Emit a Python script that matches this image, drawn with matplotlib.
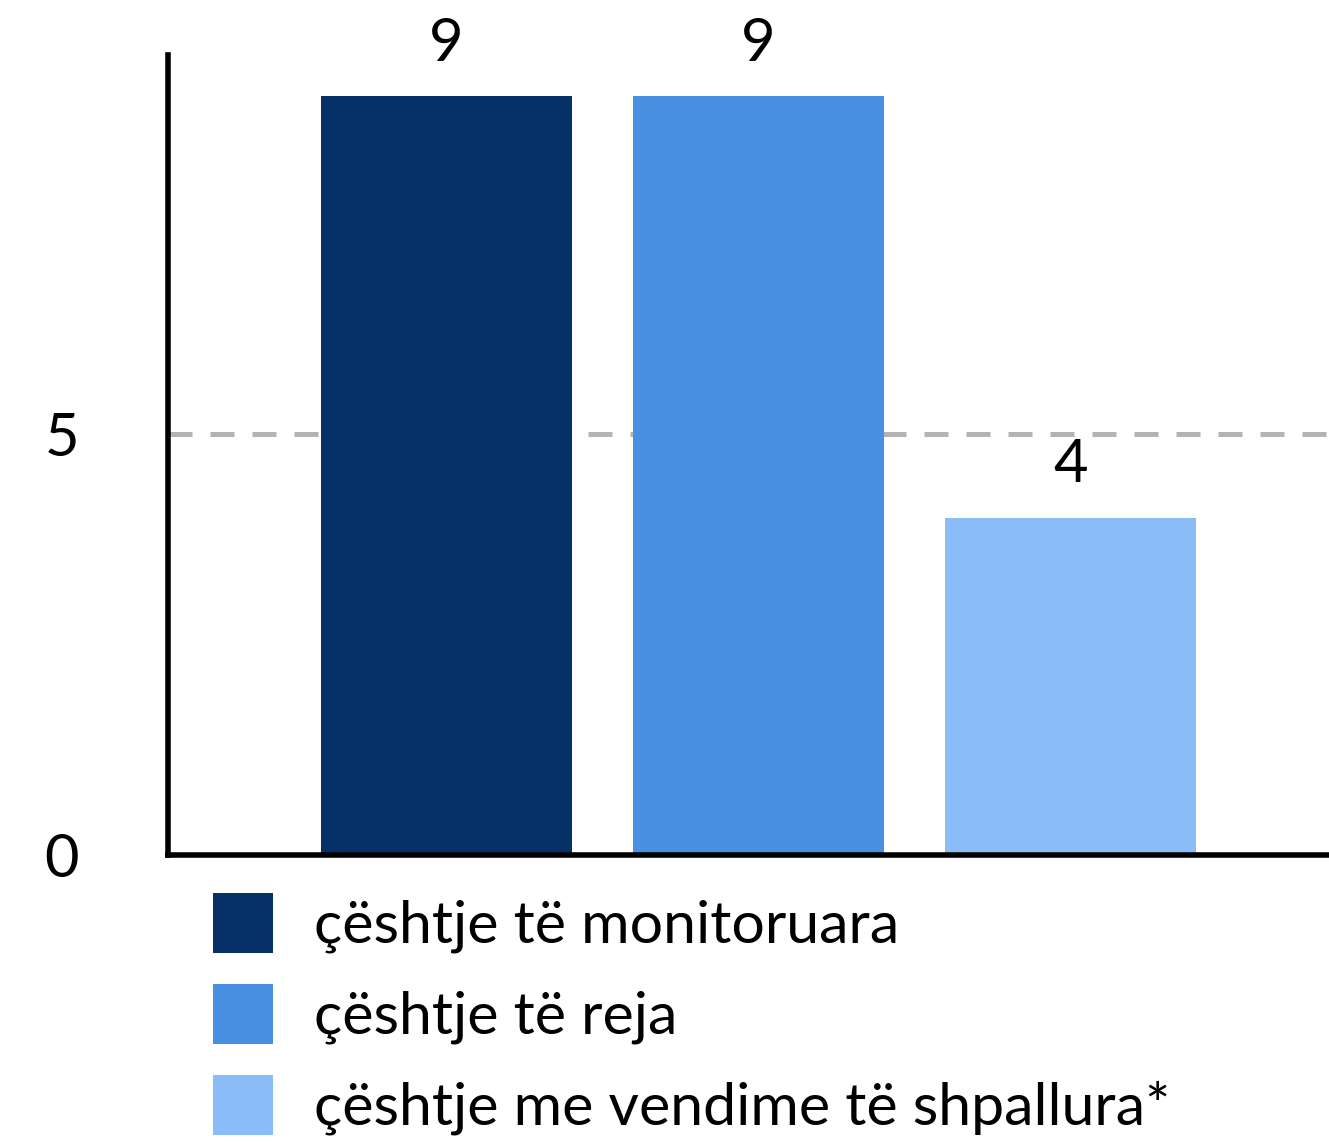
import matplotlib
matplotlib.use('Agg')
import matplotlib.pyplot as plt

# chart data
labels = ['çështje të monitoruara', 'çështje të reja', 'çështje me vendime të shpallura*']
values = [9, 9, 4]
colors = ['#063068', '#4a90e2', '#8abcf7']
yticks = [0, 5]

plt.rcParams['font.family'] = ['Lato', 'DejaVu Sans']

W, H = 1329, 1146
fig = plt.figure(figsize=(W / 100, H / 100), dpi=100)
ax = fig.add_axes([168 / W, (H - 855) / H, (1328 - 168) / W, (855 - 55) / H])

x = list(range(len(values)))
bars = ax.bar(x, values, width=0.804, color=colors, label=labels, zorder=2)

# value labels above the bars
for xi, v in zip(x, values):
    ax.annotate(str(v), (xi, v), xytext=(0, 25.5), textcoords='offset points',
                ha='center', va='baseline', fontsize=43, color='black')

# dashed reference line at 5
ax.axhline(5, color='#b3b3b3', lw=3.6, ls=(0, (4.8, 3.6)), zorder=1)

ax.set_xlim(-0.893, 2.825)
ax.set_ylim(0.047, 9.49)
ax.set_xticks([])
ax.set_yticks(yticks)
ax.set_yticklabels([str(t) for t in yticks], fontsize=43)
ax.tick_params(axis='y', length=0, pad=64)

for s in ['top', 'right']:
    ax.spines[s].set_visible(False)
for s in ['left', 'bottom']:
    ax.spines[s].set_linewidth(4)
    ax.spines[s].set_color('black')

fig.legend(handles=bars, labels=labels, loc='upper left',
           bbox_to_anchor=(213 / W, (H - 893) / H), frameon=False,
           fontsize=42.5, handlelength=1.01, handleheight=1.18,
           handletextpad=0.7, labelspacing=0.52, borderpad=0, borderaxespad=0)

fig.savefig('out.png', dpi=100)
